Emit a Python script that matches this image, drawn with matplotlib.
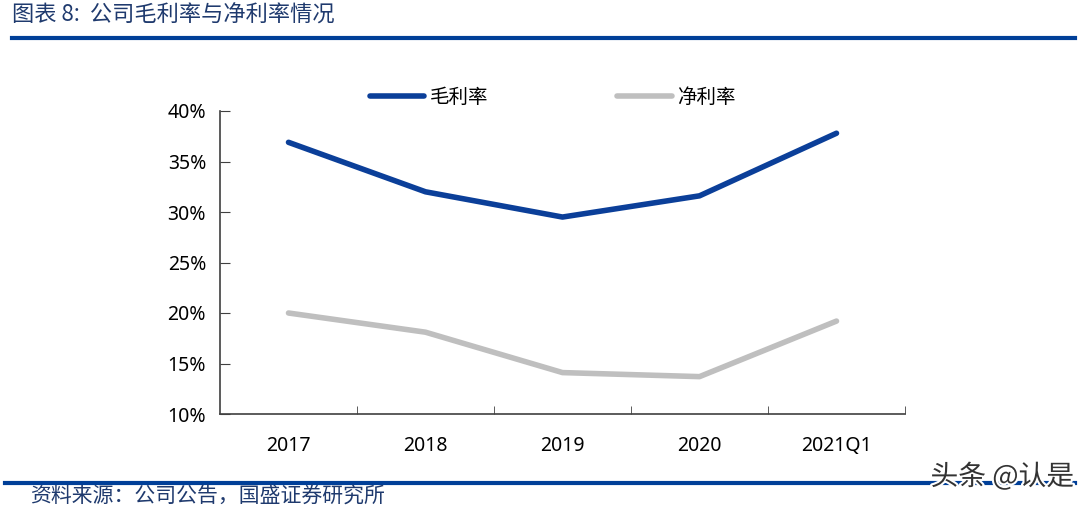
import matplotlib
matplotlib.use("Agg")
import matplotlib.pyplot as plt
import matplotlib.patheffects as pe
from matplotlib.ticker import FixedLocator, PercentFormatter

plt.rcParams['font.family'] = ['Noto Sans CJK SC', 'DejaVu Sans']

# data
periods = ["2017", "2018", "2019", "2020", "2021Q1"]
gross_margin = [36.9, 32.0, 29.5, 31.6, 37.8]
net_margin = [20.0, 18.1, 14.1, 13.7, 19.2]
y_ticks = [10, 15, 20, 25, 30, 35, 40]

blue = "#0B3F99"
grey = "#BFBFBF"
title_blue = "#1F3A6E"

fig = plt.figure(figsize=(10.84, 5.08), dpi=100)
ax = fig.add_axes([220 / 1084, 1 - 414 / 508, 685 / 1084, 303 / 508])

x = range(len(periods))
ax.plot(x, gross_margin, color=blue, lw=4, solid_capstyle="round",
        solid_joinstyle="round", label="毛利率")
ax.plot(x, net_margin, color=grey, lw=4, solid_capstyle="round",
        solid_joinstyle="round", label="净利率")

ax.set_xlim(-0.5, len(periods) - 0.5)
ax.set_ylim(10, 40)
ax.set_yticks(y_ticks)
ax.yaxis.set_major_formatter(PercentFormatter(decimals=0))
ax.set_xticks(list(x))
ax.set_xticklabels(periods)
ax.tick_params(axis="x", which="major", length=0, pad=16, labelsize=14)
ax.xaxis.set_minor_locator(FixedLocator([i + 0.5 for i in range(len(periods))]))
ax.tick_params(axis="x", which="minor", direction="in", length=6, color="#404040")
ax.tick_params(axis="y", direction="in", length=7, pad=10, labelsize=14,
               color="#404040")
for lab in ax.get_xticklabels() + ax.get_yticklabels():
    lab.set_fontfamily(["Noto Sans", "DejaVu Sans"])
for side in ["top", "right"]:
    ax.spines[side].set_visible(False)
for side in ["left", "bottom"]:
    ax.spines[side].set_color("#404040")
    ax.spines[side].set_linewidth(1.2)

leg = fig.legend(loc="center left", bbox_to_anchor=(370 / 1084, 1 - 97 / 508),
                 ncol=2, frameon=False, fontsize=14, handlelength=2.8,
                 columnspacing=6.6, handletextpad=0.3, borderaxespad=0,
                 borderpad=0)

# title and rules
fig.text(12 / 1084, 1 - 15 / 508, "图表 8:  公司毛利率与净利率情况", fontsize=16,
         color=title_blue, va="center", ha="left")
fig.add_artist(plt.Line2D([12 / 1084, 1075 / 1084], [1 - 38 / 508] * 2,
                          color="#003F98", lw=3))
fig.add_artist(plt.Line2D([5 / 1084, 1075 / 1084], [1 - 483 / 508] * 2,
                          color="#003F98", lw=3))
fig.text(30 / 1084, 1 - 497 / 508, "资料来源：公司公告，国盛证券研究所", fontsize=15,
         color=title_blue, va="center", ha="left")
fig.text(1074 / 1084, 1 - 477 / 508, "头条 @认是", fontsize=20, color="#333333",
         va="center", ha="right",
         path_effects=[pe.withStroke(linewidth=3, foreground="white")])

fig.savefig("out.png", dpi=100)
